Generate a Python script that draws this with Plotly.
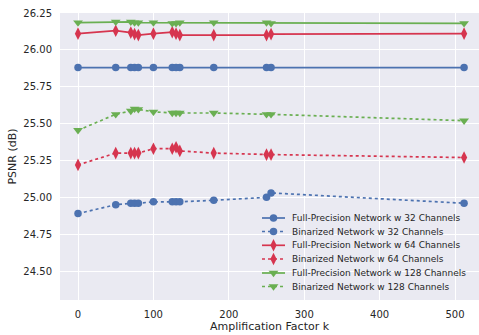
import plotly.graph_objects as go

k = [0, 50, 70, 75, 80, 100, 125, 130, 135, 180, 250, 256, 512]

fp32 = [25.88] * 13
bin32 = [24.89, 24.95, 24.96, 24.96, 24.96, 24.97, 24.97, 24.97, 24.97, 24.98, 25.00, 25.03, 24.96]
fp64 = [26.11, 26.13, 26.117, 26.107, 26.10, 26.11, 26.12, 26.11, 26.10, 26.10, 26.10, 26.107, 26.11]
bin64 = [25.22, 25.30, 25.30, 25.30, 25.30, 25.33, 25.33, 25.34, 25.315, 25.30, 25.29, 25.29, 25.27]
fp128 = [26.185, 26.19, 26.19, 26.185, 26.185, 26.185, 26.18, 26.18, 26.185, 26.185, 26.185, 26.18, 26.18]
bin128 = [25.455, 25.563, 25.586, 25.60, 25.597, 25.58, 25.572, 25.572, 25.572, 25.572, 25.563, 25.563, 25.52]

names = [
    "Full-Precision Network w 32 Channels",
    "Binarized Network w 32 Channels",
    "Full-Precision Network w 64 Channels",
    "Binarized Network w 64 Channels",
    "Full-Precision Network w 128 Channels",
    "Binarized Network w 128 Channels",
]
series = [fp32, bin32, fp64, bin64, fp128, bin128]
colors = ["#4C72B0", "#4C72B0", "#D6354F", "#D6354F", "#6AAF52", "#6AAF52"]
symbols = ["circle", "circle", "diamond-tall", "diamond-tall", "triangle-down", "triangle-down"]
dashes = ["solid", "dot", "solid", "dot", "solid", "dot"]
sizes = [7.5, 7.5, 9, 9, 8.5, 8.5]

W, H = 479, 335
ML, MR, MT, MB = 60, 0, 13, 35
PW, PH = W - ML - MR, H - MT - MB

fig = go.Figure()
for n, y, c, s, d, sz in zip(names, series, colors, symbols, dashes, sizes):
    fig.add_trace(go.Scatter(
        x=k, y=y, name=n, mode="lines+markers", showlegend=False,
        line=dict(color=c, width=1.7, dash=d),
        marker=dict(color=c, symbol=s, size=sz, line=dict(width=0)),
    ))

# Custom compact legend drawn on an overlay axis measured in plot pixels
leg_x0, leg_x1, leg_text = 262 - ML, 285 - ML, 290 - ML
leg_rows = [218, 231.5, 245.3, 259, 273, 286.5]
for i, (n, c, s, d, sz) in enumerate(zip(names, colors, symbols, dashes, sizes)):
    yy = (H - MB) - leg_rows[i]
    fig.add_trace(go.Scatter(
        x=[leg_x0, leg_x1], y=[yy, yy], mode="lines", showlegend=False,
        xaxis="x2", yaxis="y2", hoverinfo="skip",
        line=dict(color=c, width=1.7, dash=d),
    ))
    fig.add_trace(go.Scatter(
        x=[(leg_x0 + leg_x1) / 2], y=[yy], mode="markers", showlegend=False,
        xaxis="x2", yaxis="y2", hoverinfo="skip",
        marker=dict(color=c, symbol=s, size=sz, line=dict(width=0)),
    ))
    fig.add_annotation(
        x=leg_text, y=yy, xref="x2", yref="y2", text=n, showarrow=False,
        xanchor="left", yanchor="middle",
        font=dict(family="DejaVu Sans", size=9, color="#262626"),
    )

fig.update_layout(
    width=W, height=H,
    margin=dict(l=ML, r=MR, t=MT, b=MB, autoexpand=False),
    paper_bgcolor="white",
    plot_bgcolor="#EAEAF2",
    font=dict(family="DejaVu Sans", size=10, color="#262626"),
    showlegend=False,
    xaxis=dict(
        range=[-23.9, 531.8],
        tickvals=[0, 100, 200, 300, 400, 500],
        showgrid=True, gridcolor="white", gridwidth=1.2,
        zeroline=False, showline=False, automargin=False,
        ticks="outside", ticklen=5, tickcolor="rgba(0,0,0,0)",
        title=dict(text="Amplification Factor k", font=dict(size=11), standoff=1),
    ),
    yaxis=dict(
        range=[24.304, 26.25],
        tickvals=[24.5, 24.75, 25.0, 25.25, 25.5, 25.75, 26.0, 26.25],
        tickformat=".2f",
        showgrid=True, gridcolor="white", gridwidth=1.2,
        zeroline=False, showline=False, automargin=False,
        ticks="outside", ticklen=5, tickcolor="rgba(0,0,0,0)",
        title=dict(text="PSNR (dB)", font=dict(size=11), standoff=4),
    ),
    xaxis2=dict(range=[0, PW], overlaying="x", visible=False, fixedrange=True),
    yaxis2=dict(range=[0, PH], overlaying="y", visible=False, fixedrange=True),
)

fig.write_html(
    "out.html",
    config={"displayModeBar": False},
    post_script="document.body.style.margin='0';document.body.style.overflow='hidden';",
)
